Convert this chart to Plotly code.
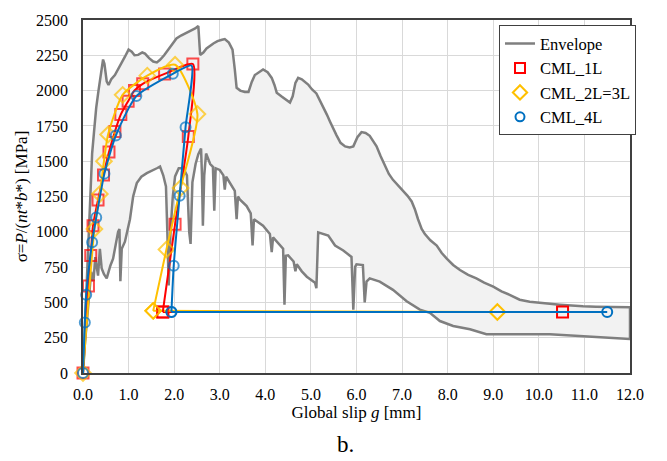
import plotly.graph_objects as go

# Experimental envelope: upper and lower bounds of the test curves (slip in mm, stress in MPa)
upper_g = [0, 0.03, 0.07, 0.11, 0.16, 0.20, 0.24, 0.29, 0.34, 0.40, 0.44, 0.47, 0.52, 0.56, 0.62,
           0.70, 0.81, 0.92, 1.00, 1.07, 1.13, 1.21, 1.30, 1.36, 1.45, 1.54, 1.62, 1.69, 1.78, 1.87,
           1.96, 2.05, 2.15, 2.24, 2.32, 2.38, 2.46, 2.53, 2.55, 2.57, 2.64, 2.71, 2.86, 2.95, 3.05,
           3.11, 3.20, 3.28, 3.33, 3.37, 3.45, 3.55, 3.63, 3.70, 3.77, 3.88, 3.95, 4.05, 4.14, 4.20,
           4.25, 4.35, 4.45, 4.54, 4.60, 4.66, 4.72, 4.80, 4.94, 5.02, 5.12, 5.20, 5.27, 5.35, 5.42,
           5.49, 5.56, 5.65, 5.75, 5.85, 5.93, 6.02, 6.11, 6.20, 6.29, 6.38, 6.44, 6.53, 6.62, 6.71,
           6.80, 6.90, 7.02, 7.12, 7.21, 7.28, 7.35, 7.43, 7.50, 7.62, 7.76, 7.87, 7.98, 8.12, 8.27,
           8.45, 8.63, 8.80, 9.00, 9.18, 9.36, 9.58, 9.80, 10.02, 10.24, 10.46, 10.70, 10.97, 11.25,
           11.48, 11.75, 12.0]
upper_s = [0, 250, 560, 900, 1300, 1554, 1700, 1880, 2000, 2150, 2220, 2190, 2066, 2040, 2080,
           2110, 2170, 2240, 2290, 2276, 2250, 2253, 2270, 2262, 2230, 2206, 2200, 2218, 2250, 2287,
           2330, 2369, 2390, 2404, 2415, 2427, 2440, 2457, 2300, 2253, 2270, 2299, 2334, 2350, 2360,
           2365, 2340, 2290, 2150, 2020, 2000, 1990, 1990, 2060, 2110, 2135, 2150, 2130, 2090, 2040,
           1985, 1960, 1935, 1915, 1960, 2055, 2090, 2080, 2043, 2010, 1980, 1930, 1880, 1830, 1780,
           1730, 1685, 1630, 1605, 1598, 1605, 1670, 1706, 1700, 1680, 1635, 1605, 1535, 1470, 1410,
           1368, 1335, 1290, 1255, 1215, 1160, 1089, 1020, 984, 940, 903, 850, 810, 765, 729,
           695, 670, 640, 612, 578, 554, 519, 505, 496, 490, 484, 478, 473, 470,
           468, 467, 466]

lower_g = [0, 0.04, 0.09, 0.14, 0.18, 0.23, 0.27, 0.33, 0.37, 0.41, 0.46, 0.52, 0.60, 0.66, 0.70,
           0.77, 0.80, 0.82, 0.85, 0.92, 1.03, 1.10, 1.18, 1.28, 1.40, 1.52, 1.62, 1.69, 1.76, 1.82,
           1.85, 1.88, 1.92, 1.97, 2.02, 2.10, 2.20, 2.28, 2.33, 2.36, 2.40, 2.47, 2.53, 2.59, 2.61,
           2.63, 2.66, 2.70, 2.79, 2.85, 2.88, 2.91, 3.00, 3.08, 3.11, 3.14, 3.22, 3.33, 3.37, 3.40,
           3.44, 3.59, 3.68, 3.72, 3.75, 3.95, 4.10, 4.14, 4.17, 4.39, 4.42, 4.45, 4.50, 4.62, 4.66,
           4.69, 4.80, 4.91, 5.09, 5.12, 5.16, 5.38, 5.53, 5.71, 5.89, 5.93, 5.97, 6.00, 6.14, 6.18,
           6.22, 6.29, 6.51, 6.80, 7.10, 7.39, 7.61, 7.83, 8.12, 8.49, 8.85, 9.00, 9.50, 10.24,
           10.97, 12.0]
lower_s = [0, 200, 420, 560, 717, 650, 820, 690, 880, 740, 700, 670, 760, 810, 880,
           1000, 1020, 650, 880, 930, 1089, 1250, 1345, 1390, 1415, 1435, 1450, 1462, 1400, 1322,
           1000, 620, 1000, 1250, 1392, 1450, 1450, 1400, 1000, 914, 1350, 1480, 1550, 1589, 1400,
           1043, 1400, 1554, 1480, 1460, 1150, 1450, 1438, 1400, 1298, 1390, 1345, 1290, 1089, 1250,
           1229, 1182, 1130, 903, 1089, 1043, 985, 856, 960, 880, 484, 830, 833, 790, 720,
           770, 720, 682, 640, 600, 996, 973, 903, 868, 822, 449, 752, 770, 764, 500,
           647, 670, 647, 589, 508, 449, 426, 368, 333, 310, 275, 275, 275, 275,
           263, 240]

# Model curves: loading, unloading, then the residual plateau (last point)
cml1_g = [0, 0.12, 0.17, 0.22, 0.33, 0.45, 0.57, 0.70, 0.83, 0.99, 1.13, 1.31, 1.79, 2.41,
          2.31, 2.02, 1.75, 10.52]
cml1_s = [0, 617, 833, 1043, 1226, 1403, 1565, 1710, 1831, 1925, 2001, 2048, 2118, 2188,
          1675, 1054, 432, 432]

cml23_g = [0, 0.25, 0.37, 0.46, 0.55, 0.87, 1.41, 2.02, 2.51, 2.14, 1.83, 1.54, 9.09]
cml23_s = [0, 1020, 1268, 1500, 1689, 1970, 2106, 2183, 1834, 1310, 875, 440, 432]

cml4_g = [0, 0.04, 0.07, 0.20, 0.29, 0.47, 0.72, 1.17, 1.97, 2.38, 2.25, 2.12, 1.99, 1.94, 11.5]
cml4_s = [0, 358, 554, 926, 1101, 1412, 1682, 1961, 2119, 2178, 1741, 1256, 759, 432, 432]

x_ticks = [0, 1, 2, 3, 4, 5, 6, 7, 8, 9, 10, 11, 12]
y_ticks = [0, 250, 500, 750, 1000, 1250, 1500, 1750, 2000, 2250, 2500]

GRAY = "#7f7f7f"
RED = "#ff0000"
YELLOW = "#ffc000"
BLUE = "#0070c0"
FONT = "Liberation Serif, Times New Roman, DejaVu Serif, serif"

fig = go.Figure()

# Shaded band between the two envelope bounds
fig.add_trace(go.Scatter(
    x=upper_g + lower_g[::-1], y=upper_s + lower_s[::-1],
    mode="lines", fill="toself", fillcolor="#f2f2f2",
    line=dict(color=GRAY, width=2.5), showlegend=False, hoverinfo="skip"))

series = [
    ("CML_1L", cml1_g, cml1_s, RED, "square-open", 11, None),
    ("CML_2L=3L", cml23_g, cml23_s, YELLOW, "diamond-open", 12, None),
    ("CML_4L", cml4_g, cml4_s, BLUE, "circle-open", 10, 9),
]
for name, gx, sy, col, sym, size, hidden in series:
    # residual plateau: straight segment from the end of unloading
    fig.add_trace(go.Scatter(
        x=gx[-2:], y=sy[-2:], mode="lines+markers", showlegend=False,
        line=dict(color=col, width=2),
        marker=dict(symbol=sym, size=size, color=col, line=dict(color=col, width=2)),
        cliponaxis=False))
for name, gx, sy, col, sym, size, hidden in series:
    # smoothed loading / unloading branch
    sizes = [size] * (len(gx) - 1)
    if hidden is not None:
        sizes[hidden] = 0
    fig.add_trace(go.Scatter(
        x=gx[:-1], y=sy[:-1], mode="lines+markers", name=name, showlegend=False,
        line=dict(color=col, width=2, shape="spline", smoothing=0.6),
        marker=dict(symbol=sym, size=sizes, color=col, line=dict(color=col, width=2)),
        cliponaxis=False))

# Legend entries
fig.add_trace(go.Scatter(x=[None], y=[None], mode="lines", name="Envelope",
                         line=dict(color=GRAY, width=2.5)))
for name, gx, sy, col, sym, size, hidden in series:
    fig.add_trace(go.Scatter(x=[None], y=[None], mode="markers", name=name,
                             marker=dict(symbol=sym, size=size - 1, color=col,
                                         line=dict(color=col, width=2))))

fig.update_layout(
    width=667, height=461,
    margin=dict(l=83, r=37, t=15, b=88),
    plot_bgcolor="white", paper_bgcolor="white",
    font=dict(family=FONT, size=16, color="black"),
    legend=dict(x=0.7605, y=0.985, xanchor="left", yanchor="top",
                bgcolor="white", bordercolor="#404040", borderwidth=1,
                font=dict(family=FONT, size=16.5, color="black"), itemwidth=30,
                tracegroupgap=0),
    annotations=[dict(text="b.", xref="paper", yref="paper", x=0.479, y=-0.202,
                      xanchor="center", yanchor="middle", showarrow=False,
                      font=dict(family=FONT, size=23, color="black"))],
)
fig.update_xaxes(
    range=[0, 12], tickvals=x_ticks, ticktext=[f"{v:.1f}" for v in x_ticks],
    tickfont=dict(family=FONT, size=16, color="black"),
    showgrid=True, gridcolor="#d9d9d9", gridwidth=1, zeroline=False,
    showline=True, linecolor="#404040", linewidth=1.5, mirror=True,
    ticklabelstandoff=6,
    title=dict(text="Global slip <i>g</i> [mm]",
               font=dict(family=FONT, size=17, color="black"), standoff=4))
fig.update_yaxes(
    range=[0, 2500], tickvals=y_ticks,
    tickfont=dict(family=FONT, size=16, color="black"),
    showgrid=True, gridcolor="#d9d9d9", gridwidth=1, zeroline=False,
    showline=True, linecolor="#404040", linewidth=1.5, mirror=True,
    ticklabelstandoff=10,
    title=dict(text="σ=<i>P</i>/(<i>nt</i>*<i>b</i>*) [MPa]",
               font=dict(family=FONT, size=17, color="black"), standoff=4))

fig.write_html("out.html")
